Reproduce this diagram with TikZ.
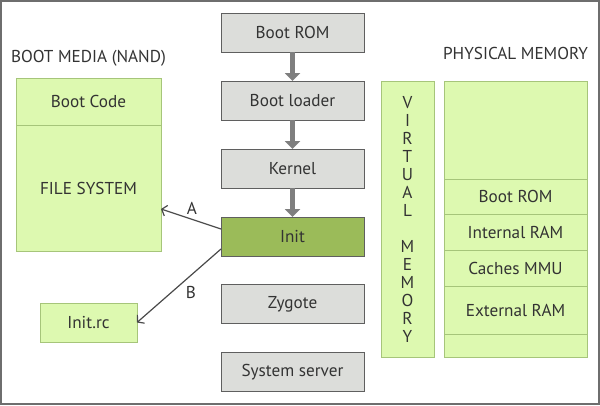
\documentclass[tikz,border=0pt]{standalone}
\usepackage{fontspec}
\setmainfont{PT Sans}
\usetikzlibrary{arrows.meta}
\definecolor{ink}{HTML}{333333}
\definecolor{stepfill}{HTML}{DCDDDA}
\definecolor{stepline}{HTML}{5F5F5F}
\definecolor{leaf}{HTML}{DDF9B0}
\definecolor{leafline}{HTML}{A6C57A}
\definecolor{initfill}{HTML}{9BBB59}
\definecolor{flow}{HTML}{7F7F7F}
\definecolor{link}{HTML}{4A4A4A}
\definecolor{frame}{HTML}{6E6E6E}
\begin{document}
\begin{tikzpicture}[x=1pt,y=-1pt,
  every node/.style={inner sep=0pt,outer sep=0pt,text=ink,
    font=\fontsize{17.2}{18}\selectfont},
  stepbox/.style={draw=stepline,line width=0.8pt,fill=stepfill,
    minimum width=143pt,minimum height=39pt},
  leafbox/.style={draw=leafline,line width=1pt,fill=leaf},
  flowarrow/.style={draw=flow,line width=5pt,
    -{Triangle[width=15pt,length=8pt]}},
  linkarrow/.style={draw=link,line width=1.2pt,
    -{Straight Barb[length=4.5pt,width=11pt]}}]
\useasboundingbox (0,0) rectangle (600,405);
\draw[frame,line width=2pt] (1,1) rectangle (599,404);

% boot sequence
\node[stepbox] (bootrom) at (292.5,32.5) {Boot ROM};
\node[stepbox] (loader) at (292.5,100.5) {Boot loader};
\node[stepbox] (kernel) at (292.5,168.5) {Kernel};
\node[stepbox,fill=initfill] (init) at (292.5,236.5) {Init};
\node[stepbox] (zygote) at (292.5,304) {Zygote};
\node[stepbox] (sysserver) at (292.5,372) {System server};
\draw[flowarrow] (bootrom.south) -- (loader.north);
\draw[flowarrow] (loader.south) -- (kernel.north);
\draw[flowarrow] (kernel.south) -- (init.north);

% boot media
\node (mediatitle) at (88.5,58) {BOOT MEDIA (NAND)};
\node[leafbox,minimum width=145pt,minimum height=47pt] (bootcode) at (88.5,101.5) {Boot Code};
\node[leafbox,minimum width=145pt,minimum height=126pt] (filesys) at (88.5,188) {FILE SYSTEM};
\node[leafbox,minimum width=97pt,minimum height=39pt] (initrc) at (88.5,322.5) {Init.rc};

\coordinate (atail) at ([yshift=7.5pt]init.west);
\coordinate (btail) at ([yshift=-12.5pt]init.west);
\draw[linkarrow] (atail) -- (filesys.east |- 0,209)
  node[midway,xshift=1pt,yshift=11pt] (alabel) {A};
\draw[linkarrow] (btail) -- (initrc.east)
  node[midway,xshift=12pt,yshift=-6.5pt] (blabel) {B};

% memory map
\node (memtitle) at (515.5,53.5) {PHYSICAL MEMORY};
\node[leafbox,minimum width=53pt,minimum height=276pt,align=center] (virtual) at (407.5,219)
  {V\\I\\R\\T\\U\\A\\L\\[18pt]M\\E\\M\\O\\R\\Y};
\node[leafbox,minimum width=143pt,minimum height=98pt] (memtop) at (515.5,130) {};
\node[leafbox,minimum width=143pt,minimum height=35pt] (memrom) at (515.5,196.5) {Boot ROM};
\node[leafbox,minimum width=143pt,minimum height=36pt] (memiram) at (515.5,232) {Internal RAM};
\node[leafbox,minimum width=143pt,minimum height=36pt] (memcache) at (515.5,268) {Caches MMU};
\node[leafbox,minimum width=143pt,minimum height=48pt] (memeram) at (515.5,310) {External RAM};
\node[leafbox,minimum width=143pt,minimum height=23pt] (membottom) at (515.5,345.5) {};
\end{tikzpicture}
\end{document}
